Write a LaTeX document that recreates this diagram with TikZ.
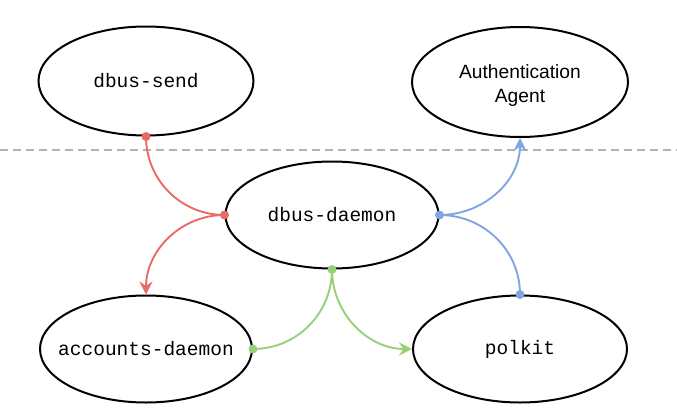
\documentclass[tikz,border=0pt]{standalone}
\usepackage{fontspec}
\setmainfont{Liberation Sans}
\setsansfont{Liberation Sans}
\setmonofont{Liberation Mono}
\usetikzlibrary{shapes.geometric,arrows.meta}
\definecolor{cred}{HTML}{EA6B66}
\definecolor{cblue}{HTML}{7EA6E0}
\definecolor{cgreen}{HTML}{97D077}
\definecolor{cgray}{HTML}{B3B3B3}
\newcommand{\zw}[1]{\makebox[0pt][c]{#1}}
\tikzset{
  proc/.style={ellipse, draw=black, line width=2pt, inner sep=0pt, minimum width=214pt, minimum height=107pt, font=\fontsize{19.5}{24}\selectfont\ttfamily},
  agent/.style={proc, font=\fontsize{19.2}{24}\selectfont\sffamily},
  link/.style={line width=1.9pt},
  tip/.style={-{Stealth[length=13pt,width=13pt,inset=4.5pt]}}
}
\begin{document}
\begin{tikzpicture}[x=1pt,y=-1pt]
\useasboundingbox (0,0) rectangle (677,407);
\node[proc, minimum width=215pt, minimum height=109pt] (send) at (146,81) {\zw{dbus-send}};
\node[agent, minimum width=216pt, minimum height=110pt] (auth) at (520,82) {\raisebox{-8.5pt}[0pt][0pt]{\zw{\begin{tabular}{@{}c@{}}Authentication\\Agent\end{tabular}}}};
\node[proc, minimum width=213pt] (daemon) at (332,215) {\zw{dbus-daemon}};
\node[proc, minimum width=212pt] (acc) at (146,349) {\zw{accounts-daemon}};
\node[proc] (pk) at (520,349) {\zw{polkit}};
\coordinate (dl) at (0,150);
\coordinate (dr) at (677,150);
\draw[cgray, line width=2pt, dash pattern=on 8pt off 5pt] (dl) -- (dr);
% red
\draw[link, cred] (send.south) to[out=-90, in=180] (daemon.west);
\draw[link, cred, tip] (daemon.west) to[out=180, in=90] (acc.north);
\fill[cred] (send.south) circle (4.5pt);
\fill[cred] (daemon.west) circle (4.5pt);
% blue
\draw[link, cblue, tip] (daemon.east) to[out=0, in=-90] (auth.south);
\draw[link, cblue] (pk.north) to[out=90, in=0] (daemon.east);
\fill[cblue] (daemon.east) circle (4.5pt);
\fill[cblue] (pk.north) circle (4.5pt);
% green
\draw[link, cgreen] (daemon.south) to[out=-90, in=0] (acc.east);
\draw[link, cgreen, tip] (daemon.south) to[out=-90, in=180] (pk.west);
\fill[cgreen] (daemon.south) circle (4.5pt);
\fill[cgreen] (acc.east) circle (4.5pt);
\end{tikzpicture}
\end{document}
